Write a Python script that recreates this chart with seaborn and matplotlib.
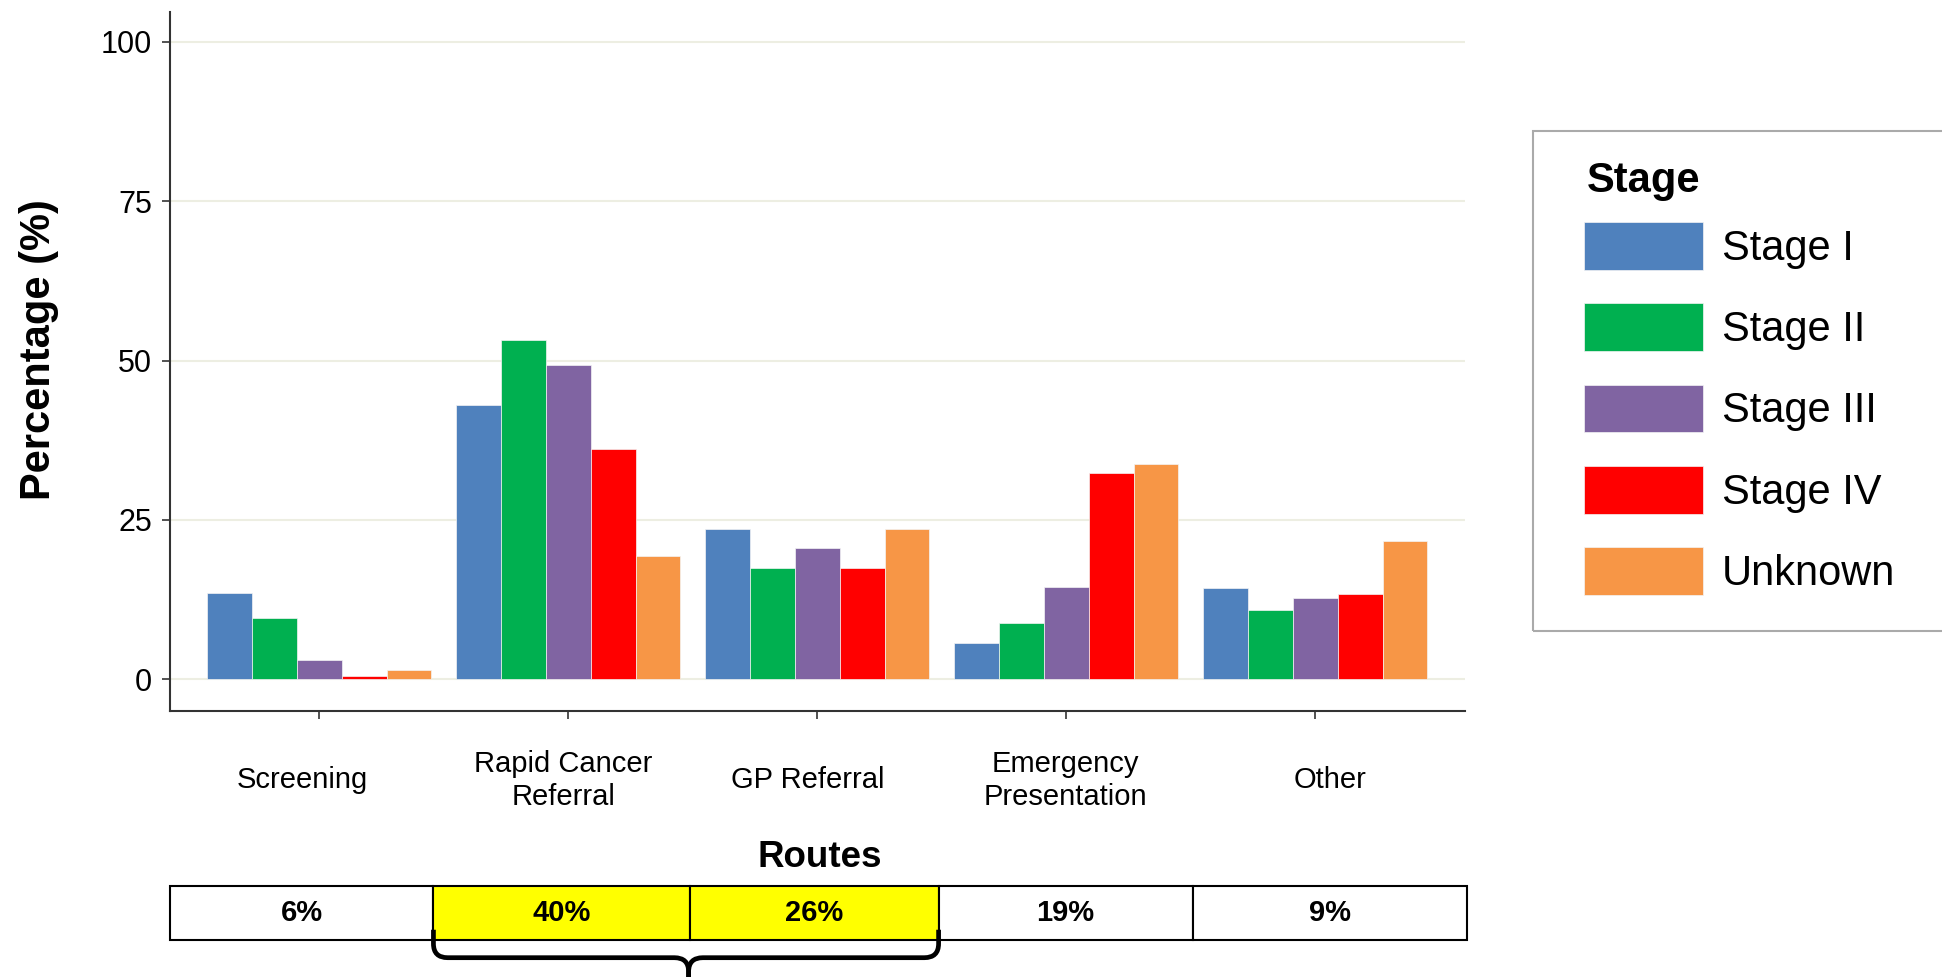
"""
Route to diagnosis by stage - grouped bar chart with route share table
"""

import numpy as np
import pandas as pd
import seaborn as sns
import matplotlib.pyplot as plt
from matplotlib.path import Path
from matplotlib.patches import PathPatch, Rectangle
from matplotlib.transforms import ScaledTranslation

# data
routes = ["Screening", "Rapid Cancer\nReferral", "GP Referral",
          "Emergency\nPresentation", "Other"]
stages = ["Stage I", "Stage II", "Stage III", "Stage IV", "Unknown"]
stage_colors = ["#4F81BD", "#00B050", "#8064A2", "#FF0000", "#F79646"]

stage_i = [13.5, 43.0, 23.6, 5.6, 14.3]
stage_ii = [9.6, 53.2, 17.4, 8.8, 10.8]
stage_iii = [3.0, 49.3, 20.5, 14.4, 12.8]
stage_iv = [0.5, 36.1, 17.5, 32.4, 13.4]
unknown = [1.5, 19.4, 23.5, 33.8, 21.7]

route_share = ["6%", "40%", "26%", "19%", "9%"]
highlighted = [False, True, True, False, False]


def build_frame():
    """long format table for seaborn"""
    values = stage_i + stage_ii + stage_iii + stage_iv + unknown
    return pd.DataFrame({
        "Route": routes * len(stages),
        "Stage": np.repeat(stages, len(routes)),
        "Percentage": values,
    })


def draw(data):
    sns.set_theme(style="white")
    plt.rcParams["font.family"] = ["Liberation Sans", "DejaVu Sans"]
    plt.rcParams["text.color"] = "black"
    plt.rcParams["axes.labelcolor"] = "black"

    fig = plt.figure(figsize=(19.42, 9.77), dpi=100)
    ax = fig.add_axes([0.0875, 0.2723, 0.6668, 0.7154])

    sns.barplot(data=data, x="Route", y="Percentage", hue="Stage",
                order=routes, hue_order=stages, palette=stage_colors,
                width=0.9, saturation=1, errorbar=None,
                edgecolor="#F4F4F4", linewidth=0.5, ax=ax)

    ax.set_xlim(-0.6, 4.6)
    ax.set_ylim(-5, 104.7)
    ax.set_yticks([0, 25, 50, 75, 100])
    ax.yaxis.grid(True, color="#EDEEE2", lw=1.5)
    ax.set_axisbelow(True)
    sns.despine(ax=ax)
    for side in ["left", "bottom"]:
        ax.spines[side].set_color("#333333")
        ax.spines[side].set_linewidth(1.5)

    ax.tick_params(axis="y", labelsize=22, length=6, width=1.2,
                   color="#333333", labelcolor="black", pad=7, left=True)
    ax.tick_params(axis="x", labelsize=21, length=6, width=1.2,
                   color="#333333", labelcolor="black", pad=44, bottom=True)
    # the labels in the original sit a little off their ticks
    label_shift = [-17, -5, -10, -1, 15]
    for lab, dx in zip(ax.get_xticklabels(), label_shift):
        lab.set_va("center")
        lab.set_linespacing(1.25)
        lab.set_transform(lab.get_transform()
                          + ScaledTranslation(dx / 100, 0, fig.dpi_scale_trans))

    ax.set_ylabel("Percentage (%)", fontsize=30, fontweight="bold")
    ax.yaxis.label.set_va("center")
    ax.yaxis.set_label_coords(-0.101, 0.517)
    ax.set_xlabel("Routes", fontsize=26.5, fontweight="bold")
    ax.xaxis.label.set_va("center")
    ax.xaxis.set_label_coords(0.502, -0.2096)

    # share of patients per route
    col_widths = [0.2035, 0.1979, 0.1922, 0.1961, 0.2123]
    cell_colours = [["#FFFF00" if h else "white" for h in highlighted]]
    tab = ax.table(cellText=[route_share], cellColours=cell_colours,
                   cellLoc="center", colWidths=col_widths,
                   bbox=[0, -0.3276, 1.002, 0.0773])
    tab.auto_set_font_size(False)
    for cell in tab.get_celld().values():
        cell.set_linewidth(1.5)
        cell.set_edgecolor("black")
        cell.get_text().set_fontsize(21)
        cell.get_text().set_fontweight("bold")

    # curly brace under the two referral routes
    xl, xr = 0.2035, 0.5936
    xc = (xl + xr) / 2 + 0.002
    ytop, yh, ybot = -0.313, -0.353, -0.40
    rx, ry = 0.011, 0.02
    for s in (1, -1):
        x0 = xl if s == 1 else xr
        verts = [(x0, ytop), (x0, yh + ry), (x0, yh), (x0 + s * rx, yh),
                 (xc - s * rx, yh), (xc, yh), (xc, yh - ry), (xc, ybot)]
        codes = [Path.MOVETO, Path.LINETO, Path.CURVE3, Path.CURVE3,
                 Path.LINETO, Path.CURVE3, Path.CURVE3, Path.LINETO]
        ax.add_patch(PathPatch(Path(verts, codes), transform=ax.transAxes,
                               fill=False, lw=3.4, color="black",
                               clip_on=False, joinstyle="round",
                               capstyle="butt"))

    # legend with its own frame and title
    handles, labels = ax.get_legend_handles_labels()
    ax.get_legend().remove()
    fig.patches.append(Rectangle((1533 / 1942, 1 - 631 / 977),
                                 500 / 1942, 500 / 977,
                                 transform=fig.transFigure, fill=False,
                                 edgecolor="#AAAAAA", lw=1.5))
    fig.text(1587 / 1942, 1 - 192 / 977, "Stage", fontsize=30,
             fontweight="bold", ha="left", va="baseline")
    fig.legend(handles, labels, loc="upper left",
               bbox_to_anchor=(1584 / 1942, 1 - 222 / 977),
               fontsize=30, frameon=False, handlelength=2.85,
               handleheight=1.38, handletextpad=0.45, labelspacing=0.81,
               borderpad=0, borderaxespad=0)

    fig.savefig("out.png", dpi=100, facecolor="white")


if __name__ == "__main__":
    my_data = build_frame()
    draw(my_data)
